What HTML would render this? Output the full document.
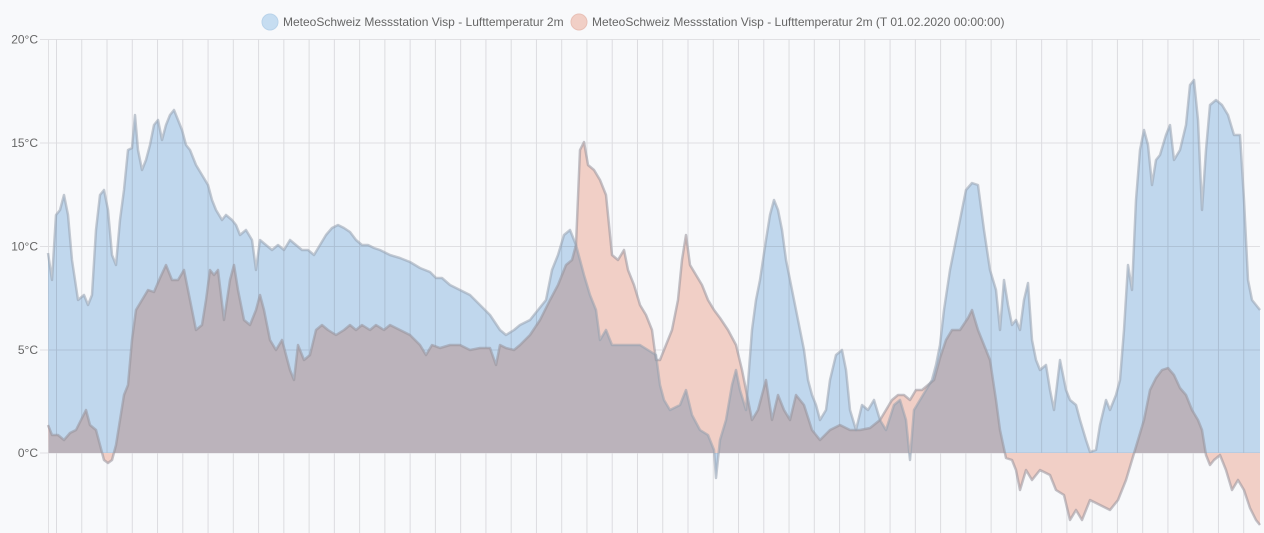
<!DOCTYPE html>
<html><head><meta charset="utf-8"><style>
html,body{margin:0;padding:0;background:#f8f9fb;}
svg{display:block;font-family:"Liberation Sans",Arial,sans-serif;}
</style></head><body>
<svg width="1264" height="533" viewBox="0 0 1264 533">
<rect width="1264" height="533" fill="#f8f9fb"/>
<g stroke="#e0e0e3" stroke-width="1">
<line x1="40" y1="39.5" x2="1260" y2="39.5"/>
<line x1="40" y1="143" x2="1260" y2="143"/>
<line x1="40" y1="246.5" x2="1260" y2="246.5"/>
<line x1="40" y1="350" x2="1260" y2="350"/>
<line x1="40" y1="453" x2="1260" y2="453"/>
<line x1="48.5" y1="39" x2="48.5" y2="533"/>
</g>
<g id="vg" stroke="#dcdce0" stroke-width="1"></g>
<g fill="#666" font-size="12" text-anchor="end">
<text x="38" y="43.5">20°C</text>
<text x="38" y="147">15°C</text>
<text x="38" y="250.5">10°C</text>
<text x="38" y="354">5°C</text>
<text x="38" y="457">0°C</text>
</g>
<g id="areas"></g>
<g font-size="12" fill="#666">
<circle cx="270" cy="22" r="8" fill="#c6ddf1" stroke="#b9d3ea"/>
<text x="283" y="26">MeteoSchweiz Messstation Visp - Lufttemperatur 2m</text>
<circle cx="579" cy="22" r="8" fill="#f1cfc6" stroke="#e8c0b6"/>
<text x="592" y="26">MeteoSchweiz Messstation Visp - Lufttemperatur 2m (T 01.02.2020 00:00:00)</text>
</g>
</svg>
<script>
var vg=document.getElementById('vg'),s='';
for(var k=0;k<=47;k++){var x=56.5+k*25.26;s+='<line x1="'+x+'" y1="39" x2="'+x+'" y2="533"/>';}
vg.innerHTML=s;
var B=[48,253,52,280,56,215,60,210,64,195,68,215,72,260,78,300,84,295,88,305,92,295,96,230,100,195,104,190,108,210,112,255,116,265,120,220,124,190,128,150,132,148,135,115,138,150,142,170,146,160,150,145,154,125,158,120,162,140,166,125,170,115,174,110,178,120,182,130,186,145,190,150,196,165,202,175,208,185,212,200,216,210,222,220,226,215,232,220,236,225,240,235,246,230,252,240,256,270,260,240,266,245,272,250,278,245,284,250,290,240,296,245,302,250,308,250,314,255,320,245,326,235,332,228,338,225,344,228,350,232,356,240,362,245,368,245,374,248,380,250,390,255,400,258,410,262,420,268,430,272,436,278,442,278,450,285,460,290,470,295,480,305,490,315,500,330,506,335,514,330,520,325,530,320,538,310,546,300,552,270,558,255,564,235,570,230,576,245,580,260,584,275,590,295,596,310,600,340,606,330,612,345,620,345,630,345,640,345,648,350,656,355,660,385,664,400,670,410,680,405,686,390,692,415,700,430,708,435,714,450,716,478,720,440,726,420,732,385,736,370,740,390,746,410,752,330,756,300,760,280,766,240,770,215,774,200,778,210,782,230,786,260,792,290,798,320,804,350,808,380,812,395,816,405,820,420,826,410,830,380,836,355,842,350,846,370,850,410,856,430,862,405,868,410,874,400,880,420,886,430,894,405,900,400,906,420,910,460,914,410,920,400,926,390,932,380,936,365,940,345,944,310,950,270,956,240,962,210,966,190,972,183,978,185,984,230,990,270,996,290,1000,330,1004,280,1008,305,1012,325,1016,320,1020,330,1024,300,1028,283,1032,340,1036,360,1040,370,1046,365,1050,390,1054,410,1060,360,1066,390,1070,400,1076,405,1080,420,1086,440,1090,452,1096,450,1100,425,1106,400,1110,410,1116,395,1120,380,1124,330,1128,265,1132,290,1136,200,1140,150,1144,130,1148,145,1152,185,1156,160,1160,155,1166,135,1170,125,1174,160,1180,150,1186,125,1190,85,1194,80,1198,120,1202,210,1206,150,1210,105,1216,100,1222,105,1228,115,1234,135,1240,135,1244,200,1248,280,1252,300,1260,310];
var R=[48,425,52,435,58,435,64,440,70,433,76,430,82,418,86,410,90,425,96,430,100,445,104,460,108,463,112,460,116,445,120,420,124,395,128,385,132,340,136,310,142,300,148,290,154,292,160,278,166,265,172,280,178,280,184,270,190,300,196,330,202,325,206,300,210,270,214,275,218,270,224,320,230,280,234,265,238,290,244,320,250,325,256,310,260,295,264,310,270,340,276,350,282,340,290,370,294,380,298,345,304,360,310,355,316,330,322,325,328,330,336,335,344,330,350,325,356,330,362,325,370,330,376,325,384,330,390,325,400,330,410,335,420,345,426,355,432,345,440,348,450,345,460,345,470,350,480,348,490,348,496,365,500,345,506,348,514,350,520,345,530,335,540,320,550,300,558,285,566,265,572,260,576,245,580,150,584,142,588,165,594,170,600,180,606,195,612,255,618,260,624,250,628,270,634,285,640,305,646,315,652,330,656,360,660,360,666,345,672,330,678,300,682,260,686,235,690,265,696,275,702,285,708,300,714,310,720,318,728,330,736,345,742,370,748,400,752,420,758,410,766,380,772,420,778,395,784,410,790,420,796,395,804,405,812,430,820,440,830,430,840,425,850,430,860,430,870,428,880,420,886,410,892,400,898,395,904,395,910,400,916,390,922,390,928,385,934,380,940,358,946,340,952,330,960,330,968,318,972,310,978,330,984,345,990,360,996,400,1000,430,1006,458,1012,460,1016,470,1020,490,1026,470,1032,480,1040,470,1050,475,1056,490,1064,495,1070,520,1076,510,1082,520,1090,500,1100,505,1110,510,1118,500,1126,480,1132,460,1138,440,1144,420,1150,390,1156,378,1162,370,1168,368,1174,375,1180,388,1186,395,1192,410,1198,420,1202,430,1206,455,1210,465,1214,460,1220,455,1226,470,1232,490,1238,480,1244,490,1250,508,1256,520,1260,525];
function pts(a){var o=[];for(var i=0;i<a.length;i+=2)o.push(a[i]+','+a[i+1]);return o.join(' ');}
var h='';
h+='<polygon points="48.5,453 '+pts(R)+' 1260,453" fill="#f1cfc6"/>';
h+='<polygon points="48.5,453 '+pts(B)+' 1260,453" fill="#c6ddf1" style="mix-blend-mode:multiply"/>';
h+='<polyline points="'+pts(R)+'" fill="none" stroke="rgba(150,145,155,0.55)" stroke-width="2.5" stroke-linejoin="round"/>';
h+='<polyline points="'+pts(B)+'" fill="none" stroke="rgba(150,160,175,0.55)" stroke-width="2.5" stroke-linejoin="round"/>';
document.getElementById('areas').innerHTML=h;
</script>
</body></html>
